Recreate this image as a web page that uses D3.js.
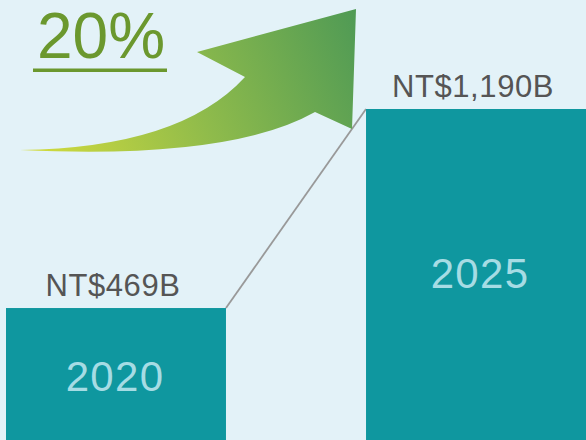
<!DOCTYPE html>
<html>
<head>
<meta charset="utf-8">
<script src="https://cdn.jsdelivr.net/npm/d3@7"></script>
<style>
  html, body { margin: 0; padding: 0; background: #e3f2f8; }
  svg { display: block; }
</style>
</head>
<body>
<script>
// ---- data ----
const years = ["2020", "2025"];
const values = [469, 1190];               // NT$ billions
const valueLabels = ["NT$469B", "NT$1,190B"];
const growthLabel = "20%";

const W = 586, H = 440;
const svg = d3.select("body").append("svg").attr("width", W).attr("height", H);

svg.append("rect").attr("width", W).attr("height", H).attr("fill", "#e3f2f8");

const x = d3.scaleBand().domain(years).range([6, 586]).paddingInner(0.389).paddingOuter(0);
const y = d3.scaleLinear().domain([0, 1190]).range([437.5, 109]);

const data = years.map((yr, i) => ({ year: yr, value: values[i], label: valueLabels[i] }));

// connector line from top-right of first bar to top-left of second
svg.append("line")
  .attr("x1", x(years[0]) + x.bandwidth()).attr("y1", y(values[0]))
  .attr("x2", x(years[1])).attr("y2", y(values[1]))
  .attr("stroke", "#999999").attr("stroke-width", 1.8);

// bars
svg.selectAll("rect.bar").data(data).enter().append("rect")
  .attr("class", "bar")
  .attr("x", d => x(d.year))
  .attr("y", d => y(d.value))
  .attr("width", x.bandwidth())
  .attr("height", d => H - y(d.value))
  .attr("fill", "#0f979f");

// value labels above bars
svg.selectAll("text.val").data(data).enter().append("text")
  .attr("class", "val")
  .attr("x", d => x(d.year) + x.bandwidth() / 2 - 3)
  .attr("y", d => y(d.value) - 12)
  .attr("text-anchor", "middle")
  .attr("font-family", "Liberation Sans, Arial, sans-serif")
  .attr("font-size", 31)
  .attr("letter-spacing", 0.6)
  .attr("fill", "#555555")
  .text(d => d.label);

// year labels inside bars
svg.selectAll("text.yr").data(data).enter().append("text")
  .attr("class", "yr")
  .attr("x", d => x(d.year) + x.bandwidth() / 2 + (d.year === "2025" ? 4 : -1))
  .attr("y", d => d.year === "2020" ? 391 : 288)
  .attr("text-anchor", "middle")
  .attr("font-family", "Liberation Sans, Arial, sans-serif")
  .attr("font-size", 42)
  .attr("letter-spacing", 1.3)
  .attr("fill", "#a6dce4")
  .text(d => d.year);

// growth arrow
const defs = svg.append("defs");
const grad = defs.append("linearGradient").attr("id", "arrowGrad")
  .attr("gradientUnits", "userSpaceOnUse")
  .attr("x1", 20).attr("y1", 150).attr("x2", 356).attr("y2", 9);
grad.append("stop").attr("offset", "0%").attr("stop-color", "#d6dd3c");
grad.append("stop").attr("offset", "50%").attr("stop-color", "#8fbb4b");
grad.append("stop").attr("offset", "100%").attr("stop-color", "#4f9a55");

svg.append("path")
  .attr("d", "M20,150 Q180,148 245,77 L197,52 L356,9 L352,129 L315,112 Q230,160 20,150 Z")
  .attr("fill", "url(#arrowGrad)");

// growth label
svg.append("text")
  .attr("x", 101).attr("y", 58)
  .attr("text-anchor", "middle")
  .attr("font-family", "Liberation Sans, Arial, sans-serif")
  .attr("font-size", 64)
  .attr("fill", "#6b982e")
  .text(growthLabel);
svg.append("rect")
  .attr("x", 33).attr("y", 68.5).attr("width", 134).attr("height", 3.5)
  .attr("fill", "#6b982e");
</script>
</body>
</html>
